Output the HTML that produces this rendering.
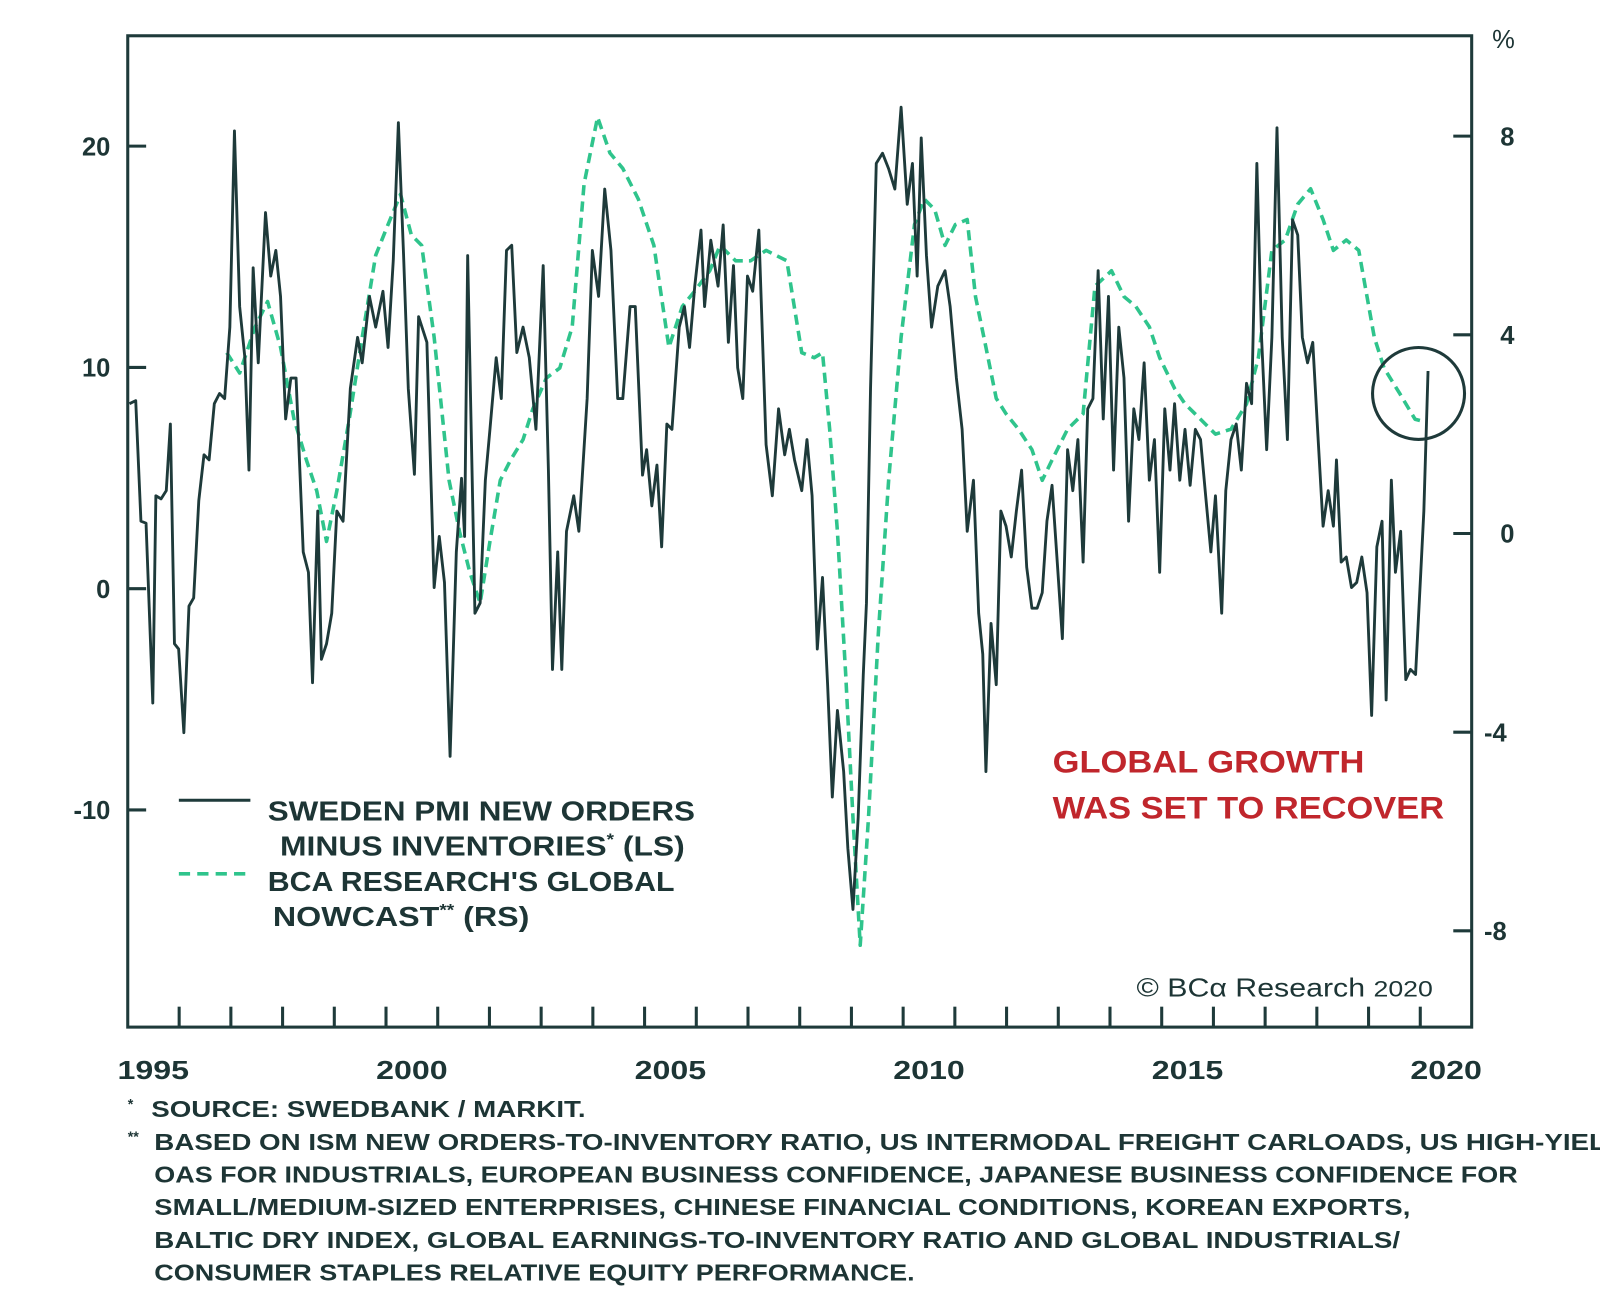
<!DOCTYPE html>
<html><head><meta charset="utf-8">
<style>
html,body{margin:0;padding:0;background:#fff;}
svg{display:block;}
text{font-family:"Liberation Sans","DejaVu Sans",sans-serif;}
</style></head>
<body>
<svg id="chart" width="1600" height="1307" viewBox="0 0 1600 1307" xmlns="http://www.w3.org/2000/svg">
<rect width="1600" height="1307" fill="#fff"/>
<g transform="scale(1.022)">
<g id="axes"></g>
<g id="series"></g>
<g>
  <line x1="175" y1="783" x2="245" y2="783" stroke="#1e3a3a" stroke-width="3"/>
  <text x="262" y="803" font-size="27" font-weight="bold" fill="#1d3535" textLength="418" lengthAdjust="spacingAndGlyphs">SWEDEN PMI NEW ORDERS</text>
  <text x="274" y="837" font-size="27" font-weight="bold" fill="#1d3535" textLength="396" lengthAdjust="spacingAndGlyphs">MINUS INVENTORIES<tspan font-size="16" dy="-10">*</tspan><tspan dy="10"> (LS)</tspan></text>
  <line x1="175" y1="855" x2="245" y2="855" stroke="#2fc48c" stroke-width="3.5" stroke-dasharray="11,7"/>
  <text x="262" y="872" font-size="27" font-weight="bold" fill="#1d3535" textLength="398" lengthAdjust="spacingAndGlyphs">BCA RESEARCH'S GLOBAL</text>
  <text x="267" y="906" font-size="27" font-weight="bold" fill="#1d3535" textLength="251" lengthAdjust="spacingAndGlyphs">NOWCAST<tspan font-size="16" dy="-10">**</tspan><tspan dy="10"> (RS)</tspan></text>
</g>
<text x="1030" y="756" font-size="31" font-weight="bold" fill="#c0262c" textLength="305" lengthAdjust="spacingAndGlyphs">GLOBAL GROWTH</text>
<text x="1030" y="801" font-size="31" font-weight="bold" fill="#c0262c" textLength="383" lengthAdjust="spacingAndGlyphs">WAS SET TO RECOVER</text>
<circle cx="1388" cy="385" r="45" fill="none" stroke="#1e3a3a" stroke-width="3"/>
<text x="1112" y="975" font-size="25" fill="#1d3535" font-family="Liberation Serif, serif" textLength="290" lengthAdjust="spacingAndGlyphs">© BCα Research <tspan font-size="22" font-family="Liberation Sans, sans-serif">2020</tspan></text>
<g font-size="22.5" font-weight="bold" fill="#1d3535">
  <text x="125" y="1085" font-size="14">*</text>
  <text x="148" y="1093" textLength="425" lengthAdjust="spacingAndGlyphs">SOURCE: SWEDBANK / MARKIT.</text>
  <text x="125" y="1117" font-size="14">**</text>
  <text x="151" y="1125" textLength="1440" lengthAdjust="spacingAndGlyphs">BASED ON ISM NEW ORDERS-TO-INVENTORY RATIO, US INTERMODAL FREIGHT CARLOADS, US HIGH-YIELD</text>
  <text x="151" y="1157" textLength="1334" lengthAdjust="spacingAndGlyphs">OAS FOR INDUSTRIALS, EUROPEAN BUSINESS CONFIDENCE, JAPANESE BUSINESS CONFIDENCE FOR</text>
  <text x="151" y="1189" textLength="1229" lengthAdjust="spacingAndGlyphs">SMALL/MEDIUM-SIZED ENTERPRISES, CHINESE FINANCIAL CONDITIONS, KOREAN EXPORTS,</text>
  <text x="151" y="1221" textLength="1219" lengthAdjust="spacingAndGlyphs">BALTIC DRY INDEX, GLOBAL EARNINGS-TO-INVENTORY RATIO AND GLOBAL INDUSTRIALS/</text>
  <text x="151" y="1253" textLength="744" lengthAdjust="spacingAndGlyphs">CONSUMER STAPLES RELATIVE EQUITY PERFORMANCE.</text>
</g>
</g>
</svg>
<script>
const swedenYears=[1994.54,1994.66,1994.76,1994.86,1994.99,1995.05,1995.15,1995.25,1995.33,1995.41,1995.49,1995.59,1995.69,1995.78,1995.88,1995.98,1996.08,1996.18,1996.28,1996.38,1996.48,1996.57,1996.67,1996.77,1996.85,1996.93,1997.03,1997.17,1997.27,1997.37,1997.46,1997.56,1997.66,1997.76,1997.90,1998.0,1998.08,1998.18,1998.25,1998.35,1998.45,1998.55,1998.67,1998.81,1998.95,1999.04,1999.18,1999.3,1999.44,1999.54,1999.64,1999.74,1999.84,1999.93,2000.05,2000.13,2000.29,2000.43,2000.53,2000.63,2000.74,2000.86,2000.96,2001.02,2001.08,2001.22,2001.32,2001.42,2001.51,2001.63,2001.73,2001.83,2001.93,2002.03,2002.15,2002.27,2002.4,2002.54,2002.64,2002.72,2002.82,2002.9,2002.99,2003.13,2003.23,2003.39,2003.49,2003.61,2003.73,2003.85,2003.98,2004.08,2004.22,2004.32,2004.46,2004.54,2004.64,2004.74,2004.83,2004.93,2005.03,2005.17,2005.27,2005.37,2005.47,2005.59,2005.66,2005.78,2005.92,2006.02,2006.12,2006.22,2006.3,2006.4,2006.49,2006.59,2006.71,2006.85,2006.97,2007.09,2007.21,2007.3,2007.4,2007.54,2007.64,2007.74,2007.84,2007.94,2008.04,2008.13,2008.23,2008.35,2008.43,2008.53,2008.63,2008.73,2008.79,2008.87,2008.98,2009.1,2009.22,2009.34,2009.46,2009.58,2009.68,2009.77,2009.85,2009.95,2010.05,2010.17,2010.31,2010.41,2010.53,2010.64,2010.74,2010.86,2010.96,2011.04,2011.1,2011.2,2011.3,2011.39,2011.49,2011.59,2011.69,2011.79,2011.89,2011.99,2012.09,2012.19,2012.28,2012.38,2012.48,2012.58,2012.68,2012.78,2012.88,2012.98,2013.07,2013.17,2013.27,2013.37,2013.47,2013.57,2013.67,2013.77,2013.86,2013.96,2014.06,2014.16,2014.26,2014.36,2014.46,2014.56,2014.66,2014.75,2014.85,2014.95,2015.05,2015.15,2015.25,2015.35,2015.45,2015.54,2015.66,2015.74,2015.84,2015.94,2016.04,2016.14,2016.24,2016.34,2016.43,2016.53,2016.63,2016.73,2016.83,2016.93,2017.03,2017.13,2017.22,2017.32,2017.42,2017.52,2017.62,2017.72,2017.82,2017.88,2017.97,2018.07,2018.17,2018.27,2018.37,2018.47,2018.56,2018.66,2018.76,2018.84,2018.94,2019.02,2019.12,2019.22,2019.31,2019.41,2019.51,2019.57,2019.65];
const swedenValues=[8.36,8.5,3.05,2.96,-5.17,4.2,4.06,4.43,7.44,-2.49,-2.73,-6.51,-0.79,-0.42,3.97,6.05,5.82,8.36,8.82,8.59,11.82,20.69,12.75,10.44,5.36,14.5,10.21,17.0,14.13,15.29,13.21,7.67,9.52,9.52,1.66,0.74,-4.25,3.51,-3.19,-2.49,-1.11,3.51,3.05,9.05,11.36,10.21,13.21,11.82,13.44,10.9,14.83,21.06,15.06,9.05,5.17,12.29,11.13,0.05,2.36,0.28,-7.58,1.66,4.99,2.36,15.06,-1.11,-0.65,4.9,7.2,10.44,8.59,15.29,15.52,10.67,11.82,10.44,7.2,14.6,5.36,-3.65,1.66,-3.65,2.59,4.2,2.59,8.59,15.29,13.21,18.06,15.29,8.59,8.59,12.75,12.75,5.13,6.28,3.74,5.59,1.89,7.44,7.2,11.82,12.75,10.9,13.67,16.21,12.75,15.75,13.67,16.44,11.13,14.6,9.98,8.59,14.13,13.44,16.21,6.51,4.2,8.13,6.05,7.2,5.82,4.43,6.74,4.2,-2.73,0.51,-4.34,-9.42,-5.5,-8.27,-11.73,-14.5,-10.35,-3.88,-0.65,9.05,19.22,19.68,18.98,18.06,21.76,17.37,19.22,14.13,20.37,15.06,11.82,13.67,14.37,12.75,9.52,7.2,2.59,4.9,-1.11,-2.96,-8.27,-1.57,-4.34,3.51,2.82,1.43,3.51,5.36,0.97,-0.88,-0.88,-0.18,3.05,4.67,1.2,-2.26,6.28,4.43,6.74,1.2,8.13,8.59,14.37,7.67,13.21,5.36,11.82,9.52,3.05,8.13,6.74,10.21,4.9,6.74,0.74,8.13,5.36,8.36,4.9,7.2,4.67,7.2,6.74,4.2,1.66,4.2,-1.11,4.43,6.74,7.44,5.36,9.28,8.36,19.22,11.36,6.28,11.36,20.83,11.36,6.74,16.67,15.98,11.36,10.21,11.13,6.97,2.82,4.43,2.82,5.82,1.2,1.43,0.05,0.28,1.43,-0.18,-5.73,1.89,3.05,-5.03,4.9,0.74,2.59,-4.11,-3.65,-3.88,0.74,3.51,9.84];
const nowcastYears=[1996.42,1996.67,1996.97,1997.21,1997.46,1997.72,1997.96,1998.16,1998.35,1998.55,1998.79,1999.04,1999.3,1999.54,1999.78,1999.99,2000.19,2000.43,2000.72,2000.92,2001.12,2001.32,2001.51,2001.71,2001.91,2002.15,2002.34,2002.6,2002.86,2003.1,2003.33,2003.59,2003.83,2004.08,2004.38,2004.68,2004.97,2005.23,2005.47,2005.76,2005.96,2006.26,2006.55,2006.85,2007.25,2007.54,2007.78,2007.94,2008.08,2008.23,2008.39,2008.53,2008.67,2008.83,2009.02,2009.22,2009.46,2009.72,2009.91,2010.11,2010.31,2010.51,2010.74,2010.9,2011.1,2011.3,2011.49,2011.73,2011.99,2012.19,2012.38,2012.68,2012.98,2013.21,2013.53,2013.77,2014.0,2014.26,2014.46,2014.75,2014.95,2015.25,2015.54,2015.84,2016.14,2016.37,2016.63,2016.89,2017.13,2017.38,2017.62,2017.82,2018.07,2018.31,2018.61,2018.8,2019.1,2019.4,2019.55];
const nowcastValues=[3.64,3.23,4.16,4.67,3.75,2.31,1.48,0.86,-0.16,0.86,2.31,3.95,5.6,6.22,6.83,6.01,5.8,3.95,1.07,0.04,-0.78,-1.4,-0.16,1.07,1.48,1.89,2.51,3.13,3.33,4.16,7.04,8.38,7.66,7.35,6.73,5.8,3.75,4.57,4.88,5.29,5.8,5.49,5.49,5.7,5.49,3.64,3.54,3.64,2.1,0.04,-2.84,-5.72,-8.29,-5.72,-2.02,1.07,3.95,6.22,6.73,6.52,5.8,6.22,6.32,4.77,3.75,2.72,2.41,2.1,1.69,1.07,1.48,2.1,2.41,4.98,5.29,4.77,4.57,4.16,3.54,2.92,2.61,2.3,2.0,2.1,2.61,3.54,5.7,5.91,6.63,6.94,6.32,5.7,5.91,5.7,3.95,3.33,2.82,2.3,2.26];
const leftTicks=[20,10,0,-10];
const rightTicks=[8,4,0,-4,-8];
const yearLabels=[1995,2000,2005,2010,2015,2020];

const NS='http://www.w3.org/2000/svg';
const L=125,R=1440,T=35,B=1005;
function xScale(t){return 150+(t-1995)*50.6;}
function yLeft(v){return 576-v*21.65;}
function yRight(v){return 522-v*48.6;}
function mk(tag,attrs,parent){const e=document.createElementNS(NS,tag);for(const k in attrs)e.setAttribute(k,attrs[k]);parent.appendChild(e);return e;}
const axes=document.getElementById('axes');
const frame=mk('rect',{x:L,y:T,width:R-L,height:B-T,fill:'none',stroke:'#1e3a3a','stroke-width':3},axes);


leftTicks.forEach(v=>{
  const y=yLeft(v);
  const tk=mk('line',{x1:L,x2:L+18,y1:y,y2:y,stroke:'#1e3a3a','stroke-width':3},axes);
  
  
  const tx=mk('text',{x:108,y:y+9,'text-anchor':'end','font-size':25,'font-weight':'bold',fill:'#1d3535'},axes);
  tx.textContent=String(v);
  
  
});
rightTicks.forEach(v=>{
  const y=yRight(v);
  const tk=mk('line',{x1:R-18,x2:R,y1:y,y2:y,stroke:'#1e3a3a','stroke-width':3},axes);
  
  
  const tx=mk('text',{x:v<0?1452:1468,y:y+9,'font-size':25,'font-weight':'bold',fill:'#1d3535'},axes);
  tx.textContent=String(v);
  
  
});
const pct=mk('text',{x:1460,y:47,'font-size':25,fill:'#1d3535'},axes);
pct.textContent='%';


for(let yr=1995;yr<2020;yr++){
  const x=xScale(yr+0.5);
  const tk=mk('line',{x1:x,x2:x,y1:B-20,y2:B,stroke:'#1e3a3a','stroke-width':3},axes);
  
  
}
yearLabels.forEach(yr=>{
  const tx=mk('text',{x:xScale(yr),y:1056,'text-anchor':'middle','font-size':25,'font-weight':'bold',fill:'#1d3535',textLength:70,lengthAdjust:'spacingAndGlyphs'},axes);
  tx.textContent=String(yr);
  
  
});
const series=document.getElementById('series');
const pn=nowcastYears.map((t,i)=>xScale(t).toFixed(1)+','+yRight(nowcastValues[i]).toFixed(1)).join(' ');
const nl=mk('polyline',{points:pn,fill:'none',stroke:'#2fc48c','stroke-width':3.5,'stroke-dasharray':'10,6','stroke-linejoin':'round'},series);


const ps=swedenYears.map((t,i)=>xScale(t).toFixed(1)+','+yLeft(swedenValues[i]).toFixed(1)).join(' ');
const sl=mk('polyline',{points:ps,fill:'none',stroke:'#1e3a3a','stroke-width':2.8,'stroke-linejoin':'round'},series);


</script>
</body></html>
